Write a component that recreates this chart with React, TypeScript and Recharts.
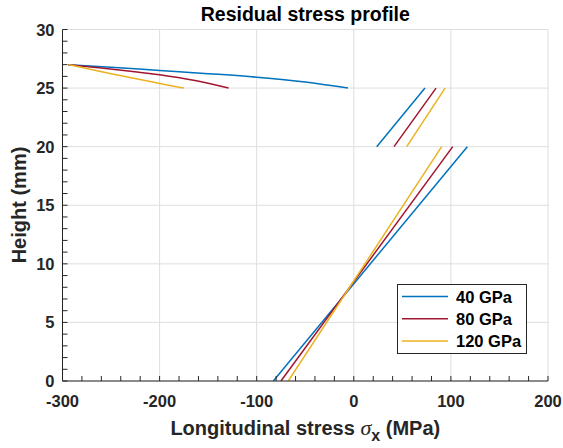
import React from "react";
import { LineChart, Line, XAxis, YAxis, CartesianGrid } from "recharts";

// tick values (minor ticks every 20 MPa / 1 mm)
const xTicks = [-300, -280, -260, -240, -220, -200, -180, -160, -140, -120, -100, -80, -60, -40, -20, 0, 20, 40, 60, 80, 100, 120, 140, 160, 180, 200];
const xMajor = [-300, -200, -100, 0, 100, 200];
const yTicks = [0, 1, 2, 3, 4, 5, 6, 7, 8, 9, 10, 11, 12, 13, 14, 15, 16, 17, 18, 19, 20, 21, 22, 23, 24, 25, 26, 27, 28, 29, 30];
const yMajor = [0, 5, 10, 15, 20, 25, 30];

// 40 GPa
const blueLower = [{ x: -82.9, y: 0 }, { x: 116.9, y: 20 }];
const blueMiddle = [{ x: 23.6, y: 20 }, { x: 73.3, y: 25 }];
const blueUpper = [{ x: -294, y: 27 }, { x: -250, y: 26.78 }, { x: -200, y: 26.5 }, { x: -150, y: 26.23 }, { x: -100, y: 25.93 }, { x: -50, y: 25.52 }, { x: -6, y: 25 }];

// 80 GPa
const redLower = [{ x: -75, y: 0 }, { x: 101.9, y: 20 }];
const redMiddle = [{ x: 41.4, y: 20 }, { x: 84.7, y: 25 }];
const redUpper = [{ x: -294, y: 27 }, { x: -260, y: 26.72 }, { x: -230, y: 26.44 }, { x: -200, y: 26.13 }, { x: -165, y: 25.66 }, { x: -129, y: 25 }];

// 120 GPa
const yellowLower = [{ x: -67.5, y: 0 }, { x: 90.5, y: 20 }];
const yellowMiddle = [{ x: 54.5, y: 20 }, { x: 94, y: 25 }];
const yellowUpper = [{ x: -294, y: 27 }, { x: -250, y: 26.22 }, { x: -200, y: 25.4 }, { x: -175, y: 25 }];

const series = [
  { name: "40 GPa", color: "#0072BD", parts: [blueLower, blueMiddle, blueUpper] },
  { name: "80 GPa", color: "#A2142F", parts: [redLower, redMiddle, redUpper] },
  { name: "120 GPa", color: "#EDB120", parts: [yellowLower, yellowMiddle, yellowUpper] },
];

const AX = "#262626";
const TL = 5;
const FONT = "'Liberation Sans', Arial, Helvetica, sans-serif";

const BottomTick = (p: any) => {
  const { x, y, payload } = p;
  const v = payload.value;
  return (
    <g>
      <line x1={x} x2={x} y1={y} y2={y - TL} stroke={AX} strokeWidth={1} />
      {xMajor.includes(v) && (
        <text x={x} y={y + 26} textAnchor="middle" fill={AX} fontSize={16.5} fontWeight="bold" fontFamily={FONT}>
          {v}
        </text>
      )}
    </g>
  );
};

const TopTick = (p: any) => {
  const { x, y } = p;
  return <line x1={x} x2={x} y1={y} y2={y + TL} stroke={AX} strokeWidth={1} />;
};

const LeftTick = (p: any) => {
  const { x, y, payload } = p;
  const v = payload.value;
  return (
    <g>
      <line x1={x} x2={x + TL} y1={y} y2={y} stroke={AX} strokeWidth={1} />
      {yMajor.includes(v) && (
        <text x={x - 8} y={y + 6} textAnchor="end" fill={AX} fontSize={16.5} fontWeight="bold" fontFamily={FONT}>
          {v}
        </text>
      )}
    </g>
  );
};

const RightTick = (p: any) => {
  const { x, y } = p;
  return <line x1={x} x2={x - TL} y1={y} y2={y} stroke={AX} strokeWidth={1} />;
};

export default function App() {
  return (
    <div style={{ position: "absolute", left: 0, top: 0, width: 563, height: 448, background: "#fff" }}>
      <LineChart width={563} height={448} margin={{ top: 29.5, right: 15, bottom: 37, left: 20 }}>
        <CartesianGrid
          xAxisId="b"
          yAxisId="l"
          stroke="#dedede"
          strokeWidth={1}
          verticalValues={xMajor}
          horizontalValues={yMajor}
        />
        <XAxis
          xAxisId="b"
          type="number"
          dataKey="x"
          domain={[-300, 200]}
          ticks={xTicks}
          interval={0}
          allowDataOverflow
          height={30}
          tickSize={0}
          tickMargin={0}
          tickLine={false}
          axisLine={{ stroke: AX, strokeWidth: 1 }}
          tick={BottomTick}
        />
        <XAxis
          xAxisId="t"
          orientation="top"
          type="number"
          dataKey="x"
          domain={[-300, 200]}
          ticks={xTicks}
          interval={0}
          allowDataOverflow
          height={0}
          tickSize={0}
          tickMargin={0}
          tickLine={false}
          axisLine={{ stroke: AX, strokeWidth: 1 }}
          tick={TopTick}
        />
        <YAxis
          yAxisId="l"
          type="number"
          domain={[0, 30]}
          ticks={yTicks}
          interval={0}
          allowDataOverflow
          width={42.5}
          tickSize={0}
          tickMargin={0}
          tickLine={false}
          axisLine={{ stroke: AX, strokeWidth: 1 }}
          tick={LeftTick}
        />
        <YAxis
          yAxisId="r"
          orientation="right"
          type="number"
          domain={[0, 30]}
          ticks={yTicks}
          interval={0}
          allowDataOverflow
          width={0}
          tickSize={0}
          tickMargin={0}
          tickLine={false}
          axisLine={{ stroke: AX, strokeWidth: 1 }}
          tick={RightTick}
        />
        {series.map((s) =>
          s.parts.map((d, i) => (
            <Line
              key={s.name + i}
              xAxisId="b"
              yAxisId="l"
              data={d}
              dataKey="y"
              type={i === 2 ? "monotone" : "linear"}
              stroke={s.color}
              strokeWidth={1.5}
              dot={false}
              activeDot={false}
              isAnimationActive={false}
            />
          ))
        )}
      </LineChart>
      <svg width={563} height={448} style={{ position: "absolute", left: 0, top: 0, pointerEvents: "none" }}>
        <text x={305.3} y={21} textAnchor="middle" fill="#000" fontSize={19.5} fontWeight="bold" fontFamily={FONT}>
          Residual stress profile
        </text>
        <text transform="translate(26,205) rotate(-90)" textAnchor="middle" fill={AX} fontSize={20} fontWeight="bold" fontFamily={FONT}>
          Height (mm)
        </text>
        <text x={305.3} y={435} textAnchor="middle" fill={AX} fontSize={20} fontWeight="bold" fontFamily={FONT}>
          Longitudinal stress{" "}
          <tspan fontFamily="'Liberation Serif', 'Times New Roman', serif" fontStyle="italic" fontWeight="normal" fontSize={22}>
            σ
          </tspan>
          <tspan dy={6} fontSize={16}>x</tspan>
          <tspan dy={-6}> (MPa)</tspan>
        </text>
        <rect x={397.5} y={284.5} width={129} height={69} fill="#fff" stroke={AX} strokeWidth={1} />
        {series.map((s, i) => (
          <g key={s.name}>
            <line x1={402} x2={448} y1={296.5 + i * 22.2} y2={296.5 + i * 22.2} stroke={s.color} strokeWidth={1.5} />
            <text x={456} y={302.5 + i * 22.2} fill="#000" fontSize={16.5} fontWeight="bold" fontFamily={FONT}>
              {s.name}
            </text>
          </g>
        ))}
      </svg>
    </div>
  );
}
